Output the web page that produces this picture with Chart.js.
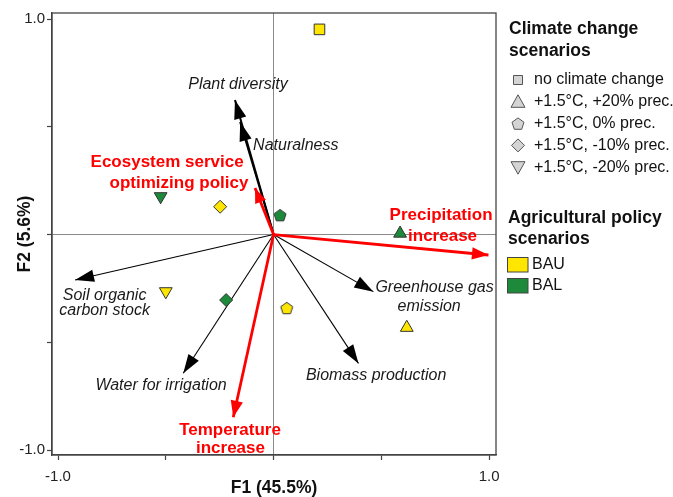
<!DOCTYPE html>
<html>
<head>
<meta charset="utf-8">
<script src="https://cdn.jsdelivr.net/npm/chart.js@4/dist/chart.umd.min.js"></script>
<style>
html,body{margin:0;padding:0;background:#fff;}
canvas{display:block;}
</style>
</head>
<body>
<canvas id="c" width="673" height="497"></canvas>
<script>
// ---------------- DATA ----------------
const tickValues = [-1, -0.5, 0, 0.5, 1];
const tickLabels = ['-1.0', '', '', '', '1.0'];
const xAxisTitle = 'F1 (45.5%)';
const yAxisTitle = 'F2 (5.6%)';

// Ecosystem service loadings (black arrows)
const serviceNames = ['Plant diversity', 'Naturalness', 'Soil organic carbon stock', 'Water for irrigation', 'Greenhouse gas emission', 'Biomass production'];
const serviceF1 = [-0.179, -0.155, -0.921, -0.419, 0.463, 0.394];
const serviceF2 = [0.624, 0.522, -0.211, -0.644, -0.265, -0.598];

// Drivers (red arrows)
const driverNames = ['Ecosystem service optimizing policy', 'Temperature increase', 'Precipitation increase'];
const driverF1 = [-0.086, -0.187, 0.997];
const driverF2 = [0.216, -0.848, -0.095];

// Scenario scores
const climateLabels = ['no climate change', '+1.5°C, +20% prec.', '+1.5°C, 0% prec.', '+1.5°C, -10% prec.', '+1.5°C, -20% prec.'];
const policyLabels = ['BAU', 'BAL'];
const climateTitle = ['Climate change', 'scenarios'];
const policyTitle = ['Agricultural policy', 'scenarios'];

const bauClimate = [0, 3, 4, 2, 1];
const bauF1 = [0.213, -0.248, -0.500, 0.061, 0.618];
const bauF2 = [0.952, 0.129, -0.264, -0.341, -0.432];

const balClimate = [4, 2, 3, 1];
const balF1 = [-0.524, 0.030, -0.220, 0.587];
const balF2 = [0.177, 0.090, -0.304, 0.005];

// ---------------- STYLE ----------------
const FONT = '"Liberation Sans", Arial, Helvetica, sans-serif';
const YELLOW = '#FFE600';
const GREEN = '#1C8A3A';
const RED = '#FF0000';
const MARK_STROKE = '#333';

// label placement (data units) for each arrow's caption lines
const serviceLabelLayout = [
  [{t: 'Plant diversity', x: -0.165, y: 0.698, a: 'center'}],
  [{t: 'Naturalness', x: -0.095, y: 0.412, a: 'left'}],
  [{t: 'Soil organic', x: -0.784, y: -0.285, a: 'center'}, {t: 'carbon stock', x: -0.784, y: -0.354, a: 'center'}],
  [{t: 'Water for irrigation', x: -0.522, y: -0.703, a: 'center'}],
  [{t: 'Greenhouse gas', x: 0.747, y: -0.248, a: 'center'}, {t: 'emission', x: 0.722, y: -0.335, a: 'center'}],
  [{t: 'Biomass production', x: 0.476, y: -0.652, a: 'center'}]
];
const driverLabelLayout = [
  [{t: 'Ecosystem service', x: -0.494, y: 0.335, a: 'center'}, {t: 'optimizing policy', x: -0.439, y: 0.240, a: 'center'}],
  [{t: 'Temperature', x: -0.202, y: -0.907, a: 'center'}, {t: 'increase', x: -0.200, y: -0.992, a: 'center'}],
  [{t: 'Precipitation', x: 0.777, y: 0.090, a: 'center'}, {t: 'increase', x: 0.784, y: -0.006, a: 'center'}]
];

function pentagonPath(ctx, x, y, r) {
  ctx.beginPath();
  for (let k = 0; k < 5; k++) {
    const ang = -Math.PI / 2 + k * 2 * Math.PI / 5;
    const px = x + r * Math.cos(ang), py = y + r * Math.sin(ang);
    if (k === 0) ctx.moveTo(px, py); else ctx.lineTo(px, py);
  }
  ctx.closePath();
}
function makePentagon(fill) {
  const cv = document.createElement('canvas');
  cv.width = 16; cv.height = 16;
  const g = cv.getContext('2d');
  pentagonPath(g, 8, 8.6, 6.3);
  g.fillStyle = fill; g.fill();
  g.lineWidth = 1; g.strokeStyle = MARK_STROKE; g.stroke();
  return cv;
}
const pentYellow = makePentagon(YELLOW);
const pentGreen = makePentagon(GREEN);

function styleFor(kind, policy) {
  switch (kind) {
    case 0: return {s: 'rect', r: 7.5, rot: 0};
    case 1: return {s: 'triangle', r: 7.4, rot: 0};
    case 2: return {s: policy === 0 ? pentYellow : pentGreen, r: 6, rot: 0};
    case 3: return {s: 'rectRot', r: 6.5, rot: 0};
    default: return {s: 'triangle', r: 7.4, rot: 180};
  }
}

// ---------------- DATASETS ----------------
const datasets = [];
serviceNames.forEach((n, i) => {
  const heavy = i < 2;
  datasets.push({
    label: n, arrow: true, head: [19, 6.2],
    data: [{x: 0, y: 0}, {x: serviceF1[i], y: serviceF2[i]}],
    showLine: true, pointRadius: 0, pointHoverRadius: 0,
    borderColor: '#000', backgroundColor: '#000',
    borderWidth: heavy ? 2 : 1.1, borderCapStyle: 'butt', order: 10
  });
});
driverNames.forEach((n, i) => {
  datasets.push({
    label: n, arrow: true, head: i === 0 ? [15, 5.8] : [16.5, 6.2],
    data: [{x: 0, y: 0}, {x: driverF1[i], y: driverF2[i]}],
    showLine: true, pointRadius: 0, pointHoverRadius: 0,
    borderColor: RED, backgroundColor: RED,
    borderWidth: 2.8, borderCapStyle: 'butt', order: 9
  });
});
function scenarioDataset(label, f1, f2, kinds, fill, pIdx) {
  return {
    label, arrow: false,
    data: f1.map((v, i) => ({x: v, y: f2[i]})),
    showLine: false,
    pointStyle: c => styleFor(kinds[c.dataIndex], pIdx).s,
    pointRadius: c => styleFor(kinds[c.dataIndex], pIdx).r,
    pointHoverRadius: c => styleFor(kinds[c.dataIndex], pIdx).r,
    rotation: c => styleFor(kinds[c.dataIndex], pIdx).rot,
    backgroundColor: fill, borderColor: MARK_STROKE, borderWidth: 1,
    order: 1
  };
}
datasets.push(scenarioDataset('BAU', bauF1, bauF2, bauClimate, YELLOW, 0));
datasets.push(scenarioDataset('BAL', balF1, balF2, balClimate, GREEN, 1));

// ---------------- PLUGINS ----------------
const framePlugin = {
  id: 'frame',
  beforeDatasetsDraw(chart) {
    const {ctx, chartArea: a} = chart;
    ctx.save();
    ctx.strokeStyle = '#444';
    ctx.lineWidth = 1.3;
    ctx.strokeRect(a.left, a.top, a.right - a.left, a.bottom - a.top);
    ctx.restore();
  }
};

const arrowPlugin = {
  id: 'arrowheads',
  afterDatasetDraw(chart, args) {
    const ds = chart.data.datasets[args.index];
    if (!ds.arrow) return;
    const xs = chart.scales.x, ys = chart.scales.y;
    const p0 = ds.data[0], p1 = ds.data[1];
    const x0 = xs.getPixelForValue(p0.x), y0 = ys.getPixelForValue(p0.y);
    const x1 = xs.getPixelForValue(p1.x), y1 = ys.getPixelForValue(p1.y);
    const dx = x1 - x0, dy = y1 - y0, len = Math.hypot(dx, dy);
    const ux = dx / len, uy = dy / len;
    const [L, W] = ds.head;
    const bx = x1 - ux * L, by = y1 - uy * L;
    const ctx = chart.ctx;
    ctx.save();
    ctx.beginPath();
    ctx.moveTo(x1, y1);
    ctx.lineTo(bx - uy * W, by + ux * W);
    ctx.lineTo(bx + uy * W, by - ux * W);
    ctx.closePath();
    ctx.fillStyle = ds.borderColor;
    ctx.fill();
    ctx.restore();
  }
};

const labelPlugin = {
  id: 'arrowLabels',
  afterDatasetsDraw(chart) {
    const {ctx} = chart;
    const xs = chart.scales.x, ys = chart.scales.y;
    ctx.save();
    ctx.textBaseline = 'middle';
    ctx.font = `italic 16px ${FONT}`;
    ctx.fillStyle = '#1a1a1a';
    serviceLabelLayout.forEach(lines => lines.forEach(l => {
      ctx.textAlign = l.a;
      ctx.fillText(l.t, xs.getPixelForValue(l.x), ys.getPixelForValue(l.y));
    }));
    ctx.font = `bold 17px ${FONT}`;
    ctx.fillStyle = RED;
    driverLabelLayout.forEach(lines => lines.forEach(l => {
      ctx.textAlign = l.a;
      ctx.fillText(l.t, xs.getPixelForValue(l.x), ys.getPixelForValue(l.y));
    }));
    ctx.restore();
  }
};

function drawLegendShape(ctx, kind, x, y) {
  ctx.beginPath();
  if (kind === 0) {
    ctx.rect(x - 4.5, y - 4.5, 9, 9);
  } else if (kind === 1) {
    ctx.moveTo(x, y - 7); ctx.lineTo(x + 7, y + 5.5); ctx.lineTo(x - 7, y + 5.5); ctx.closePath();
  } else if (kind === 2) {
    pentagonPath(ctx, x, y + 0.6, 6.3);
  } else if (kind === 3) {
    ctx.moveTo(x, y - 6.5); ctx.lineTo(x + 6.5, y); ctx.lineTo(x, y + 6.5); ctx.lineTo(x - 6.5, y); ctx.closePath();
  } else {
    ctx.moveTo(x, y + 7); ctx.lineTo(x + 7, y - 5.5); ctx.lineTo(x - 7, y - 5.5); ctx.closePath();
  }
  ctx.fillStyle = '#d4d4d4';
  ctx.fill();
  ctx.lineWidth = 1;
  ctx.strokeStyle = '#555';
  ctx.stroke();
}

const legendPlugin = {
  id: 'customLegend',
  afterDraw(chart) {
    const ctx = chart.ctx;
    ctx.save();
    ctx.textBaseline = 'middle';
    ctx.textAlign = 'left';
    ctx.fillStyle = '#111';
    ctx.font = `bold 17.5px ${FONT}`;
    climateTitle.forEach((t, i) => ctx.fillText(t, 509, 29 + i * 22));
    ctx.font = `16px ${FONT}`;
    climateLabels.forEach((t, i) => {
      const y = 80 + i * 21.8;
      drawLegendShape(ctx, i, 518, y);
      ctx.fillStyle = '#111';
      ctx.fillText(t, 534, y);
    });
    ctx.font = `bold 17.5px ${FONT}`;
    policyTitle.forEach((t, i) => ctx.fillText(t, 508, 218 + i * 21));
    const fills = [YELLOW, GREEN];
    ctx.font = `16px ${FONT}`;
    policyLabels.forEach((t, i) => {
      const y = 264.5 + i * 21;
      ctx.fillStyle = fills[i];
      ctx.fillRect(507, y - 7.5, 21, 15);
      ctx.lineWidth = 1;
      ctx.strokeStyle = '#444';
      ctx.strokeRect(507.5, y - 7, 20.5, 14.5);
      ctx.fillStyle = '#111';
      ctx.fillText(t, 532, y);
    });
    ctx.restore();
  }
};

// ---------------- CHART ----------------
function axisCommon(title, titlePad) {
  return {
    type: 'linear',
    afterBuildTicks: s => { s.ticks = tickValues.map(v => ({value: v})); },
    ticks: {
      callback: v => { const i = tickValues.indexOf(v); return i >= 0 ? tickLabels[i] : ''; },
      font: {family: FONT, size: 15},
      color: '#222',
      autoSkip: false,
      maxRotation: 0
    },
    grid: {
      color: c => (c.tick && c.tick.value === 0) ? '#8a8a8a' : 'rgba(0,0,0,0)',
      lineWidth: 1,
      drawTicks: true,
      tickLength: 5,
      tickColor: '#444',
      tickWidth: 1.2
    },
    border: {display: true, color: '#444', width: 1.3},
    title: {display: true, text: title, font: {family: FONT, size: 17.5, weight: 'bold', lineHeight: 1}, color: '#111', padding: titlePad}
  };
}

const xScale = Object.assign(axisCommon(xAxisTitle, {top: 0, bottom: 0}), {
  position: 'bottom', min: -1.028, max: 1.032,
  afterFit: s => { s.height = 42; }
});
xScale.ticks.padding = 8;
const yScale = Object.assign(axisCommon(yAxisTitle, {top: 16, bottom: 0}), {
  position: 'left', min: -1.023, max: 1.028,
  afterFit: s => { s.width = 52; }
});
yScale.ticks.padding = 2;

new Chart(document.getElementById('c'), {
  type: 'scatter',
  data: {datasets},
  options: {
    responsive: false,
    devicePixelRatio: 1,
    animation: false,
    layout: {padding: {top: 13, right: 177, left: 0, bottom: 0}},
    scales: {x: xScale, y: yScale},
    plugins: {legend: {display: false}, tooltip: {enabled: false}}
  },
  plugins: [framePlugin, arrowPlugin, labelPlugin, legendPlugin]
});
</script>
</body>
</html>
